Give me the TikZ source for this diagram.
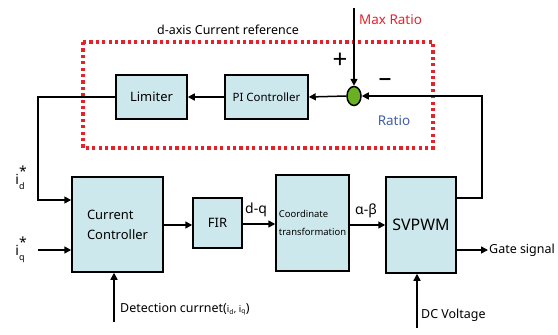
\documentclass[tikz,border=0pt]{standalone}
\usepackage{fontspec}
\setmainfont{Noto Sans}
\usetikzlibrary{arrows.meta,shapes.geometric}
\definecolor{boxfill}{HTML}{CDE8EC}
\definecolor{dotred}{HTML}{E8202A}
\definecolor{sumgreen}{HTML}{6AB023}
\definecolor{ratioblue}{HTML}{3F5FA8}
\tikzset{
  blk/.style={draw, line width=1.5bp, fill=boxfill, inner sep=0pt, font=\fontsize{13}{15}\selectfont},
  arr/.style={line width=1.5bp, -{Triangle[length=7bp,width=7bp]}},
  lbl/.style={font=\fontsize{12.5}{15}\selectfont, inner sep=0pt}
}
\begin{document}
\begin{tikzpicture}[x=1bp,y=-1bp]
\useasboundingbox (0,0) rectangle (558,334);
% dotted box
\draw[dotred, line width=3.5bp, dash pattern=on 3.2bp off 3.2bp] (83,42) rectangle (433,148);
\node[lbl] (dax) at (228,30) {d-axis Current reference};
% blocks
\node[blk, minimum width=71bp, minimum height=44bp] (lim) at (151.5,97) {Limiter};
\node[blk, minimum width=83bp, minimum height=44bp, font=\fontsize{11.5}{13}\selectfont] (pi) at (266.5,97) {PI Controller};
\node[ellipse, draw, line width=1.5bp, fill=sumgreen, minimum width=14bp, minimum height=19bp, inner sep=0pt] (sum) at (354,96) {};
\node[blk, minimum width=91bp, minimum height=95bp, align=left] (cc) at (117.5,224.5) {Current\\[5bp]Controller};
\node[blk, minimum width=49bp, minimum height=50bp] (fir) at (217.5,223) {FIR};
\node[blk, minimum width=73bp, minimum height=96bp, align=left, font=\fontsize{9.5}{11}\selectfont] (ct) at (312.5,223) {Coordinate\\[7bp]transformation};
\node[blk, minimum width=70bp, minimum height=96bp, font=\fontsize{16}{18}\selectfont] (svp) at (421,225) {SVPWM};
% coordinates
\coordinate (mr) at (354,8);
\coordinate (fbc) at (482,96);
\coordinate (lc) at (38,97);
\coordinate (iqs) at (38,250);
\coordinate (det) at (114,322);
\coordinate (dcv) at (417,328);
\coordinate (gate) at (488,250);
% connectors
\draw[arr] (mr) -- (sum.north);
\draw[arr] ([yshift=27bp]svp.east) -| (fbc) -- (sum.east);
\draw[arr] (sum.west) -- (pi.east);
\draw[arr] (pi.west) -- (lim.east);
\draw[arr] (lim.west) -- (lc) |- ([yshift=24.5bp]cc.west);
\draw[arr] (iqs) -- (iqs -| cc.west);
\draw[arr] (det) -- (det |- cc.south);
\draw[arr] (cc.east |- 0,225) -- (fir.west |- 0,225);
\draw[arr] (fir.east |- 0,224) -- (ct.west |- 0,224);
\draw[arr] (ct.east |- 0,225) -- (svp.west);
\draw[arr] (svp.east |- gate) -- (gate);
\draw[arr] (dcv) -- (dcv |- svp.south);
% labels
\node[lbl, text=dotred, anchor=west, font=\fontsize{13.5}{15}\selectfont] (mrl) at (359,20) {Max Ratio};
\node[lbl, text=ratioblue, font=\fontsize{13.5}{15}\selectfont] (rat) at (394,121) {Ratio};
\node[font=\fontsize{26}{26}\selectfont\bfseries, inner sep=0pt] (plus) at (340,61) {+};
\node[font=\fontsize{26}{26}\selectfont\bfseries, inner sep=0pt] (minus) at (385,83) {\textendash};
\node[lbl, font=\fontsize{14}{16}\selectfont] (id) at (20,178) {i\rlap{\raisebox{8bp}{*}}\raisebox{-5bp}{\fontsize{9}{9}\selectfont d}};
\node[lbl, font=\fontsize{14}{16}\selectfont] (iq) at (20,250) {i\rlap{\raisebox{8bp}{*}}\raisebox{-5bp}{\fontsize{9}{9}\selectfont q}};
\node[lbl, anchor=west] (detl) at (120,309) {Detection currnet({\fontsize{9.5}{10}\selectfont i\textsubscript{d}, i\textsubscript{q}})};
\node[lbl, anchor=west, font=\fontsize{14}{16}\selectfont] (dq) at (245,210) {d-q};
\node[lbl, font=\fontsize{14}{16}\selectfont] (ab) at (366,211) {α-β};
\node[lbl, anchor=west] (gs) at (489,250) {Gate signal};
\node[lbl, anchor=west] (dc) at (421,315) {DC Voltage};
\end{tikzpicture}
\end{document}
